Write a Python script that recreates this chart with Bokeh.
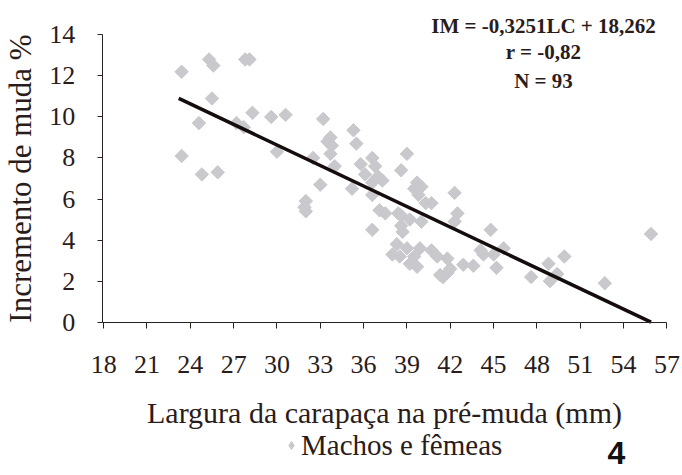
from bokeh.plotting import figure
from bokeh.models import FixedTicker, Label, Legend, LegendItem, Range1d, ColumnDataSource
from bokeh.embed import file_html
from bokeh.resources import INLINE
import numpy as np

# ---- data ----
lc = [
    23.4, 25.3, 25.6, 27.8, 28.1, 25.5, 24.6, 23.4, 24.8, 25.9,
    27.2, 27.7, 28.3, 29.6, 30.6, 30.0, 33.2, 33.7, 33.8, 33.7,
    32.5, 34.0, 33.0, 32.0, 32.0, 31.9, 35.3, 35.5, 35.8, 36.6,
    36.8, 36.1, 37.0, 36.6, 35.2, 36.6, 37.1, 37.5, 36.6, 39.0,
    38.6, 39.7, 40.0, 39.5, 39.8, 40.3, 38.4, 38.6, 39.2, 38.6,
    42.3, 42.5, 42.3, 38.3, 38.0, 38.5, 39.0, 39.5, 39.9, 39.2,
    39.7, 40.7, 41.1, 41.8, 41.5, 42.0, 42.9, 43.6, 41.3, 41.8,
    44.8, 44.3, 45.0, 45.7, 45.2, 44.1, 47.6, 48.8, 48.9, 49.4,
    49.9, 52.7, 55.9, 40.7, 40.0, 33.5, 37.3, 38.7,
]
im = [
    12.2, 12.8, 12.5, 12.8, 12.8, 10.9, 9.7, 8.1, 7.2, 7.3,
    9.7, 9.5, 10.2, 10.0, 10.1, 8.3, 9.9, 9.0, 8.6, 8.2,
    8.0, 7.6, 6.7, 5.9, 5.4, 5.6, 9.35, 8.7, 7.7, 8.0,
    7.6, 7.2, 7.1, 6.8, 6.5, 6.2, 5.45, 5.3, 4.5, 8.2,
    7.4, 6.8, 6.6, 6.5, 6.2, 5.8, 5.3, 4.7, 5.0, 5.2,
    6.3, 5.3, 4.9, 3.8, 3.3, 3.2, 3.6, 3.2, 3.6, 2.85,
    2.7, 3.5, 3.2, 3.1, 2.2, 2.6, 2.8, 2.75, 2.3, 2.4,
    4.5, 3.3, 3.3, 3.6, 2.65, 3.5, 2.2, 2.85, 2.0, 2.35,
    3.2, 1.9, 4.3, 5.8, 4.9, 8.8, 6.9, 4.4,
]
line_lc = [23.2, 55.9]
line_im = [10.9, 0.0]

x_ticks = [18, 21, 24, 27, 30, 33, 36, 39, 42, 45, 48, 51, 54, 57]
y_ticks = [0, 2, 4, 6, 8, 10, 12, 14]

eq_lines = ["IM = -0,3251LC + 18,262", "r = -0,82", "N = 93"]
series_name = "Machos e fêmeas"
fig_number = "4"
x_title = "Largura da carapaça na pré-muda (mm)"
y_title = "Incremento de muda %"

# ---- layout (pixels) ----
W, H = 680, 472
AX_X0, AX_X1 = 17.9, 57.0          # x extent of the axis
AX_Y0, AX_Y1 = 0.0, 14.0           # y extent of the axis
LEFT_PX, RIGHT_PX = 101.7, 666.4   # screen x of AX_X0 / AX_X1
BOT_PX, TOP_PX = 321.7, 34.3       # screen y of AX_Y0 / AX_Y1
kx = (RIGHT_PX - LEFT_PX) / (AX_X1 - AX_X0)
ky = (BOT_PX - TOP_PX) / (AX_Y1 - AX_Y0)
x_range = Range1d(AX_X0 - LEFT_PX / kx, AX_X0 + (W - LEFT_PX) / kx)
y_range = Range1d(AX_Y0 - (H - BOT_PX) / ky, AX_Y0 + BOT_PX / ky)

TXT = "#2a1c1a"
SERIF = "'Liberation Serif', 'Times New Roman', serif"
SANS = "'Liberation Sans', Arial, sans-serif"
MARK = "#c9c9cd"

p = figure(width=W, height=H, output_backend="svg", toolbar_location=None,
           x_range=x_range, y_range=y_range, min_border=0)
p.outline_line_color = None
p.xgrid.visible = False
p.ygrid.visible = False
p.background_fill_color = "white"
p.border_fill_color = "white"

src = ColumnDataSource(dict(lc=lc, im=im))
sc = p.scatter("lc", "im", source=src, marker="square", angle=np.pi / 4, size=9.5,
               fill_color=MARK, line_color=MARK)
p.line(line_lc, line_im, line_width=3.5, line_color="#150d0d")

# legend key: same points at zero size (the legend draws its own diamond key)
key = p.scatter("lc", "im", source=src, marker="diamond", size=0,
                fill_color=MARK, line_color=MARK)

for ax in (p.xaxis[0], p.yaxis[0]):
    ax.axis_line_color = "#2a2220"
    ax.major_tick_line_color = "#2a2220"
    ax.minor_tick_line_color = None
    ax.major_tick_in = 0
    ax.major_label_text_color = TXT
    ax.major_label_text_font = SERIF
    ax.axis_label_text_color = TXT
    ax.axis_label_text_font = SERIF
    ax.axis_label_text_font_style = "normal"

p.xaxis.fixed_location = AX_Y0
p.xaxis.bounds = (AX_X0, AX_X1)
p.xaxis.ticker = FixedTicker(ticks=x_ticks)
p.xaxis.major_tick_out = 6
p.xaxis.major_label_text_font_size = "26px"
p.xaxis.major_label_standoff = 28
p.xaxis.axis_label = x_title
p.xaxis.axis_label_text_font_size = "30px"
p.xaxis.axis_label_standoff = 19

p.yaxis.fixed_location = AX_X0
p.yaxis.bounds = (AX_Y0, AX_Y1)
p.yaxis.ticker = FixedTicker(ticks=y_ticks)
p.yaxis.major_tick_out = 5
p.yaxis.major_label_text_font_size = "26px"
p.yaxis.major_label_standoff = 22
p.yaxis.axis_label = y_title
p.yaxis.axis_label_text_font_size = "31px"
p.yaxis.axis_label_standoff = 9

# equation block (screen units, origin at bottom-left)
for txt, yb in zip(eq_lines, [25, 51.7, 80]):
    p.add_layout(Label(x=543, y=H - yb, x_units="screen", y_units="screen", text=txt,
                       text_align="center", text_baseline="alphabetic",
                       text_font=SERIF, text_font_style="bold",
                       text_font_size="21px", text_color=TXT))

legend = Legend(items=[LegendItem(label=series_name, renderers=[key])],
                location=(281, H - 462), orientation="horizontal",
                glyph_width=20, glyph_height=34, label_standoff=0,
                padding=0, margin=0, spacing=0,
                border_line_color=None, background_fill_alpha=0,
                label_text_font=SERIF, label_text_font_size="29px",
                label_text_color=TXT)
p.add_layout(legend)

p.add_layout(Label(x=607, y=H - 452, x_units="screen", y_units="screen", text=fig_number,
                   text_align="left", text_baseline="alphabetic",
                   text_font=SANS, text_font_style="bold",
                   text_font_size="32px", text_color="#111111"))

open("out.html", "w").write(file_html(p, INLINE))
